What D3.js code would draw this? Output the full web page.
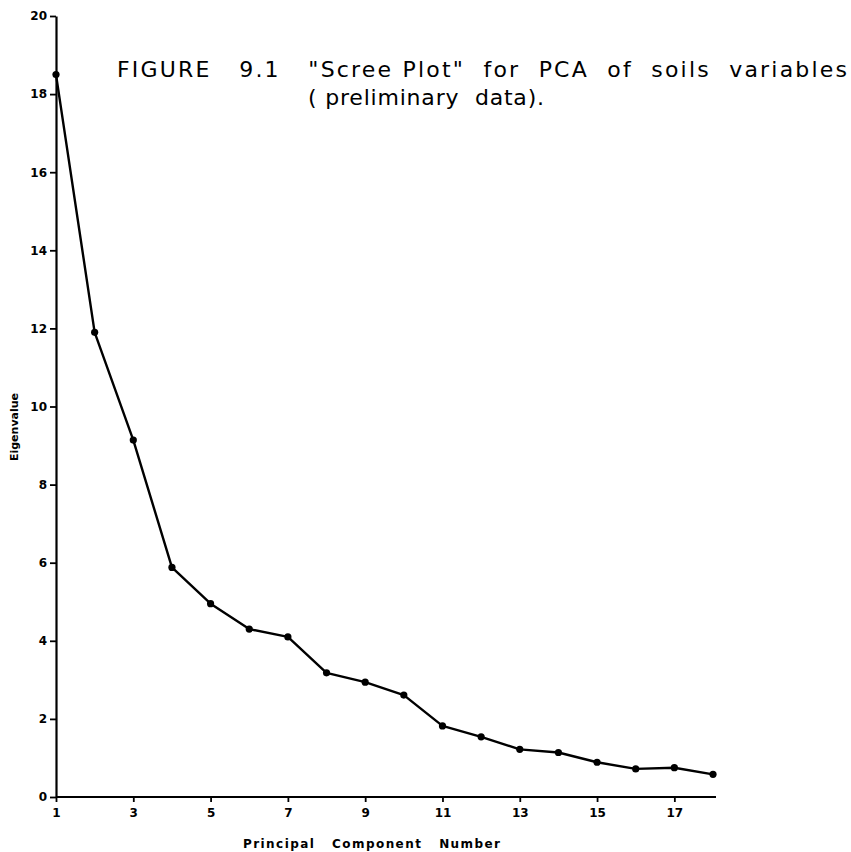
<!DOCTYPE html>
<html>
<head>
<meta charset="utf-8">
<script src="https://cdn.jsdelivr.net/npm/d3@7"></script>
<style>
  html, body { margin: 0; padding: 0; background: #fff; }
  svg { display: block; }
  .tick text { font-family: "DejaVu Sans", sans-serif; font-weight: bold; font-size: 12px; fill: #000; }
</style>
</head>
<body>
<svg id="chart" width="851" height="852"></svg>
<script>
// Principal component numbers and their eigenvalues
const componentNumbers = [1, 2, 3, 4, 5, 6, 7, 8, 9, 10, 11, 12, 13, 14, 15, 16, 17, 18];
const eigenvalues = [18.5, 11.9, 9.14, 5.88, 4.95, 4.3, 4.1, 3.18, 2.94, 2.61, 1.82, 1.54, 1.22, 1.14, 0.89, 0.72, 0.75, 0.58];

// Axis tick values
const xTickValues = [1, 3, 5, 7, 9, 11, 13, 15, 17];
const yTickValues = [0, 2, 4, 6, 8, 10, 12, 14, 16, 18, 20];

const titleLines = ["FIGURE   9.1   \"Scree Plot\"  for  PCA  of  soils  variables", "( preliminary  data)."];
const xAxisTitle = "Principal   Component   Number";
const yAxisTitle = "Eigenvalue";

const svg = d3.select("#chart");

const x = d3.scaleLinear().domain([1, 18]).range([56, 713]);
const y = d3.scaleLinear().domain([0, 20]).range([797, 16]);

// x axis, ticks hanging below the baseline
const xAxis = svg.append("g")
  .attr("transform", `translate(0,${y(0)})`)
  .call(d3.axisBottom(x).tickValues(xTickValues).tickSize(5).tickSizeOuter(0).tickPadding(6).tickFormat(d3.format("d")));
xAxis.select(".domain").attr("stroke", "#000").attr("stroke-width", 2.2)
  .attr("d", `M${x(1)},0H${x(18) + 3}`);
xAxis.selectAll(".tick line").attr("stroke", "#000").attr("stroke-width", 1.8);

// y axis, ticks pointing left
const yAxis = svg.append("g")
  .attr("transform", `translate(${x(1)},0)`)
  .call(d3.axisLeft(y).tickValues(yTickValues).tickSize(6).tickSizeOuter(0).tickPadding(3).tickFormat(d3.format("d")));
yAxis.select(".domain").attr("stroke", "#000").attr("stroke-width", 2.2);
yAxis.selectAll(".tick line").attr("stroke", "#000").attr("stroke-width", 1.8);

// scree curve
const points = componentNumbers.map((c, i) => [c, eigenvalues[i]]);
svg.append("path")
  .datum(points)
  .attr("fill", "none")
  .attr("stroke", "#000")
  .attr("stroke-width", 2.4)
  .attr("stroke-linejoin", "round")
  .attr("d", d3.line().x(d => x(d[0])).y(d => y(d[1])));

svg.append("g")
  .selectAll("circle")
  .data(points)
  .join("circle")
  .attr("cx", d => x(d[0]))
  .attr("cy", d => y(d[1]))
  .attr("r", 3.6)
  .attr("fill", "#000");

// axis titles
svg.append("text")
  .attr("x", 243).attr("y", 848)
  .attr("font-family", "DejaVu Sans, sans-serif")
  .attr("font-weight", "bold")
  .attr("font-size", 12)
  .attr("textLength", 257)
  .attr("lengthAdjust", "spacing")
  .style("white-space", "pre")
  .text(xAxisTitle);

svg.append("text")
  .attr("transform", `translate(18,427) rotate(-90)`)
  .attr("text-anchor", "middle")
  .attr("font-family", "DejaVu Sans, sans-serif")
  .attr("font-weight", "bold")
  .attr("font-size", 11)
  .text(yAxisTitle);

// figure caption
svg.append("text")
  .attr("x", 117).attr("y", 77)
  .attr("font-family", "DejaVu Sans, sans-serif")
  .attr("font-size", 22)
  .attr("textLength", 730)
  .attr("lengthAdjust", "spacing")
  .style("white-space", "pre")
  .text(titleLines[0]);

svg.append("text")
  .attr("x", 308).attr("y", 105)
  .attr("font-family", "DejaVu Sans, sans-serif")
  .attr("font-size", 22)
  .attr("letter-spacing", 0.8)
  .style("white-space", "pre")
  .text(titleLines[1]);
</script>
</body>
</html>
